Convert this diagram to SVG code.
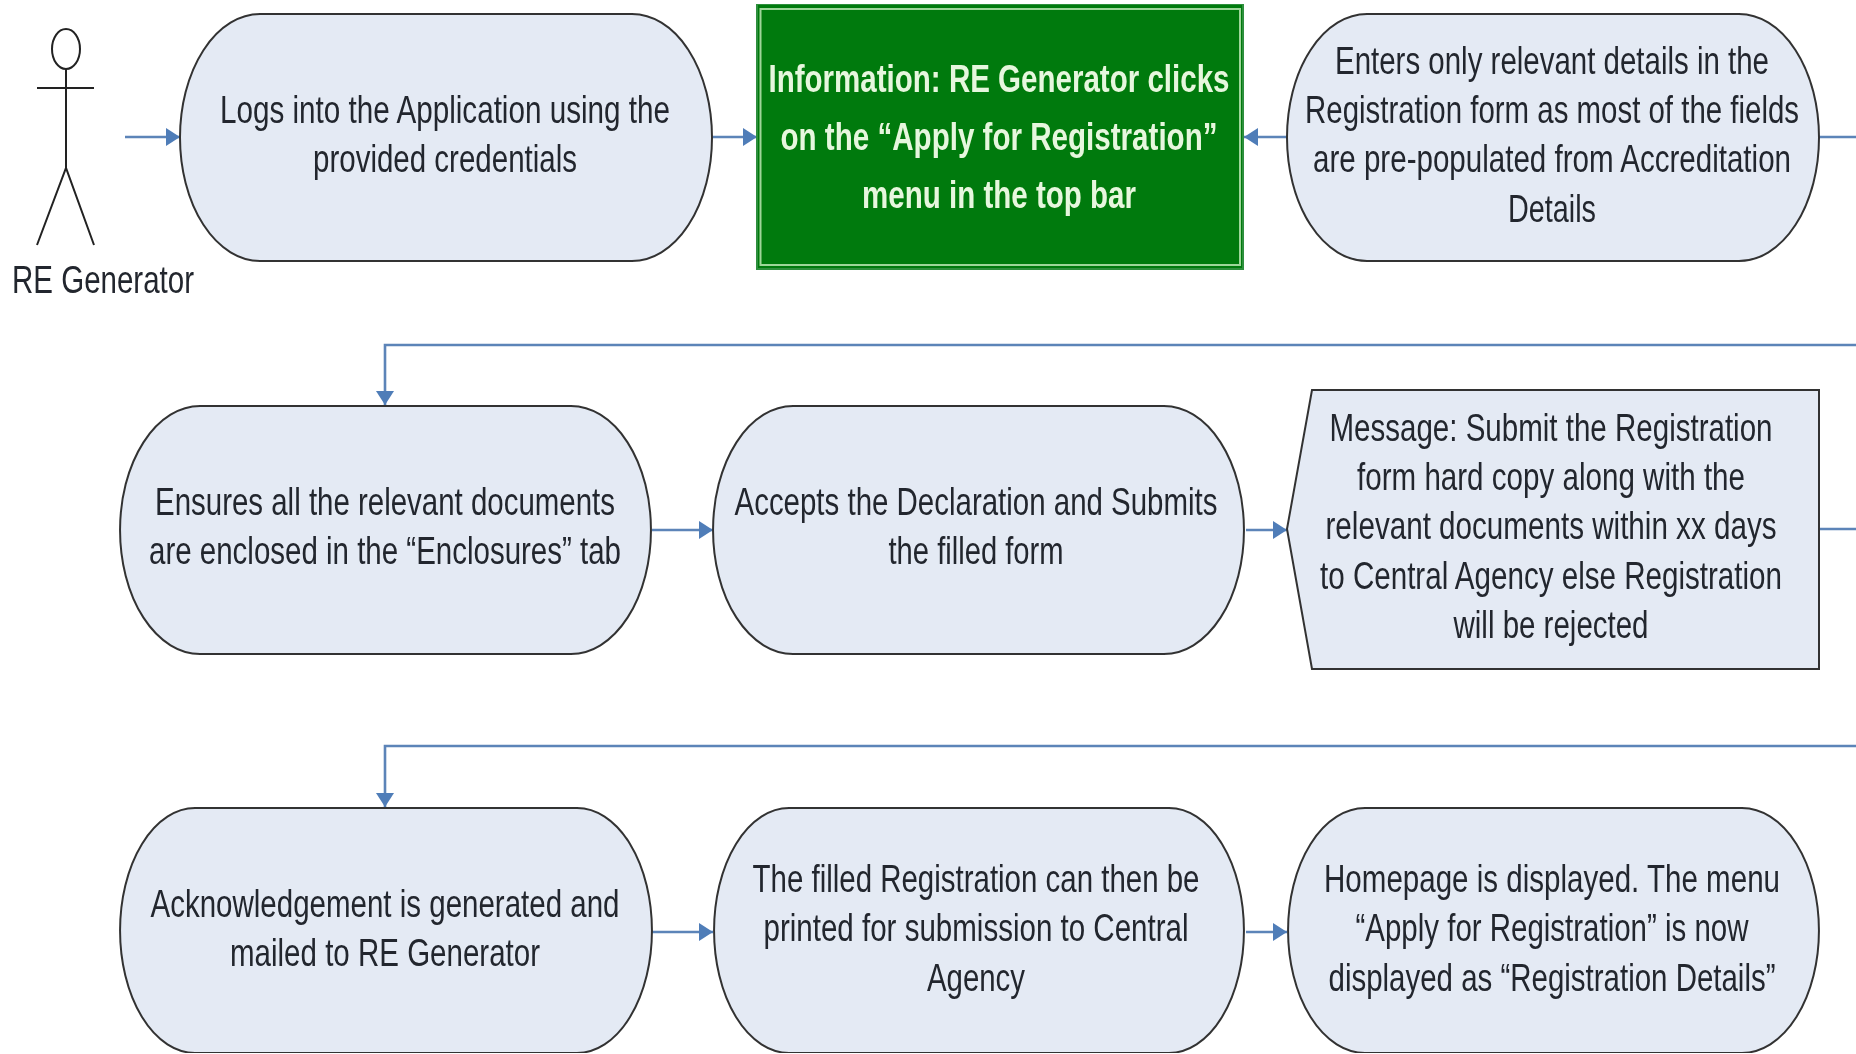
<svg xmlns="http://www.w3.org/2000/svg" width="1856" height="1054" viewBox="0 0 1856 1054">
<style>
text{font-family:"Liberation Sans",Arial,sans-serif;font-size:30px;text-anchor:middle;fill:#23272e;stroke:none}
.n{fill:#e4eaf4;stroke:#333;stroke-width:2}
.c{fill:none;stroke:#5b84b8;stroke-width:2.6}
.a{fill:none;stroke:#222;stroke-width:2}
#n3 text{fill:#e6f7de;font-weight:bold}
</style>
<defs>
<marker id="ah" markerUnits="userSpaceOnUse" markerWidth="16" markerHeight="18" refX="14" refY="9" orient="auto"><path d="M0 0L14 9L0 18Z" fill="#4f7db8"/></marker>
<filter id="soft" x="0" y="0" width="100%" height="100%"><feGaussianBlur stdDeviation="0.6"/></filter>
</defs>
<rect width="1856" height="1054" fill="#fff"/>
<g filter="url(#soft)">
<g id="connectors">
<path class="c" marker-end="url(#ah)" d="M125 137H180"/>
<path class="c" marker-end="url(#ah)" d="M712 137H757"/>
<path class="c" marker-end="url(#ah)" d="M1287 137H1244"/>
<path class="c" d="M1819 137H1856"/>
<path class="c" marker-end="url(#ah)" d="M1856 345H385V405"/>
<path class="c" marker-end="url(#ah)" d="M652 530H713"/>
<path class="c" marker-end="url(#ah)" d="M1246 530H1287"/>
<path class="c" d="M1819 529H1856"/>
<path class="c" marker-end="url(#ah)" d="M1856 746H385V807"/>
<path class="c" marker-end="url(#ah)" d="M652 932H713"/>
<path class="c" marker-end="url(#ah)" d="M1246 932H1287"/>
</g>
<g id="n1">
<ellipse class="a" cx="66" cy="49" rx="14" ry="20"/>
<path class="a" d="M37 88H94M66 69V168M37 245L66 168L94 245"/>
<text transform="translate(103 293) scale(1 1.27)" textLength="182" lengthAdjust="spacingAndGlyphs">RE Generator</text>
</g>
<g id="n2">
<path class="n" d="M260 14H632A80 123.500 0 0 1 632 261H260A80 123.500 0 0 1 260 14Z"/>
<text transform="translate(445 123) scale(1 1.27)" textLength="450" lengthAdjust="spacingAndGlyphs">Logs into the Application using the</text>
<text transform="translate(445 172) scale(1 1.27)" textLength="264" lengthAdjust="spacingAndGlyphs">provided credentials</text>
</g>
<g id="n3">
<rect x="757" y="4" width="486" height="265" fill="#067a0a" stroke="#2f8f3c" stroke-width="2"/>
<rect x="760.500" y="9" width="479.500" height="256" fill="none" stroke="#9ed69a" stroke-width="2"/>
<text transform="translate(999 92) scale(1 1.27)" textLength="461" lengthAdjust="spacingAndGlyphs">Information: RE Generator clicks</text>
<text transform="translate(999 150) scale(1 1.27)" textLength="437" lengthAdjust="spacingAndGlyphs">on the “Apply for Registration”</text>
<text transform="translate(999 208) scale(1 1.27)" textLength="274" lengthAdjust="spacingAndGlyphs">menu in the top bar</text>
</g>
<g id="n4">
<path class="n" d="M1367 14H1739A80 123.500 0 0 1 1739 261H1367A80 123.500 0 0 1 1367 14Z"/>
<text transform="translate(1552 74) scale(1 1.27)" textLength="434" lengthAdjust="spacingAndGlyphs">Enters only relevant details in the</text>
<text transform="translate(1552 123) scale(1 1.27)" textLength="494" lengthAdjust="spacingAndGlyphs">Registration form as most of the fields</text>
<text transform="translate(1552 172) scale(1 1.27)" textLength="478" lengthAdjust="spacingAndGlyphs">are pre-populated from Accreditation</text>
<text transform="translate(1552 222) scale(1 1.27)" textLength="88" lengthAdjust="spacingAndGlyphs">Details</text>
</g>
<g id="n5">
<path class="n" d="M200 406H571A80 124 0 0 1 571 654H200A80 124 0 0 1 200 406Z"/>
<text transform="translate(385 515) scale(1 1.27)" textLength="460" lengthAdjust="spacingAndGlyphs">Ensures all the relevant documents</text>
<text transform="translate(385 564) scale(1 1.27)" textLength="472" lengthAdjust="spacingAndGlyphs">are enclosed in the “Enclosures” tab</text>
</g>
<g id="n6">
<path class="n" d="M793 406H1164A80 124 0 0 1 1164 654H793A80 124 0 0 1 793 406Z"/>
<text transform="translate(976 515) scale(1 1.27)" textLength="483" lengthAdjust="spacingAndGlyphs">Accepts the Declaration and Submits</text>
<text transform="translate(976 564) scale(1 1.27)" textLength="175" lengthAdjust="spacingAndGlyphs">the filled form</text>
</g>
<g id="n7">
<path class="n" d="M1312 390H1819V669H1312L1287 529Z"/>
<text transform="translate(1551 441) scale(1 1.27)" textLength="443" lengthAdjust="spacingAndGlyphs">Message: Submit the Registration</text>
<text transform="translate(1551 490) scale(1 1.27)" textLength="388" lengthAdjust="spacingAndGlyphs">form hard copy along with the</text>
<text transform="translate(1551 539) scale(1 1.27)" textLength="451" lengthAdjust="spacingAndGlyphs">relevant documents within xx days</text>
<text transform="translate(1551 589) scale(1 1.27)" textLength="462" lengthAdjust="spacingAndGlyphs">to Central Agency else Registration</text>
<text transform="translate(1551 638) scale(1 1.27)" textLength="195" lengthAdjust="spacingAndGlyphs">will be rejected</text>
</g>
<g id="n8">
<path class="n" d="M195 808H577A75 122.500 0 0 1 577 1053H195A75 122.500 0 0 1 195 808Z"/>
<text transform="translate(385 917) scale(1 1.27)" textLength="469" lengthAdjust="spacingAndGlyphs">Acknowledgement is generated and</text>
<text transform="translate(385 966) scale(1 1.27)" textLength="310" lengthAdjust="spacingAndGlyphs">mailed to RE Generator</text>
</g>
<g id="n9">
<path class="n" d="M789 808H1169A75 122.500 0 0 1 1169 1053H789A75 122.500 0 0 1 789 808Z"/>
<text transform="translate(976 892) scale(1 1.27)" textLength="447" lengthAdjust="spacingAndGlyphs">The filled Registration can then be</text>
<text transform="translate(976 941) scale(1 1.27)" textLength="425" lengthAdjust="spacingAndGlyphs">printed for submission to Central</text>
<text transform="translate(976 991) scale(1 1.27)" textLength="98" lengthAdjust="spacingAndGlyphs">Agency</text>
</g>
<g id="n10">
<path class="n" d="M1365 808H1742A77 122.500 0 0 1 1742 1053H1365A77 122.500 0 0 1 1365 808Z"/>
<text transform="translate(1552 892) scale(1 1.27)" textLength="456" lengthAdjust="spacingAndGlyphs">Homepage is displayed. The menu</text>
<text transform="translate(1552 941) scale(1 1.27)" textLength="393" lengthAdjust="spacingAndGlyphs">“Apply for Registration” is now</text>
<text transform="translate(1552 991) scale(1 1.27)" textLength="447" lengthAdjust="spacingAndGlyphs">displayed as “Registration Details”</text>
</g>
</g>
</svg>
